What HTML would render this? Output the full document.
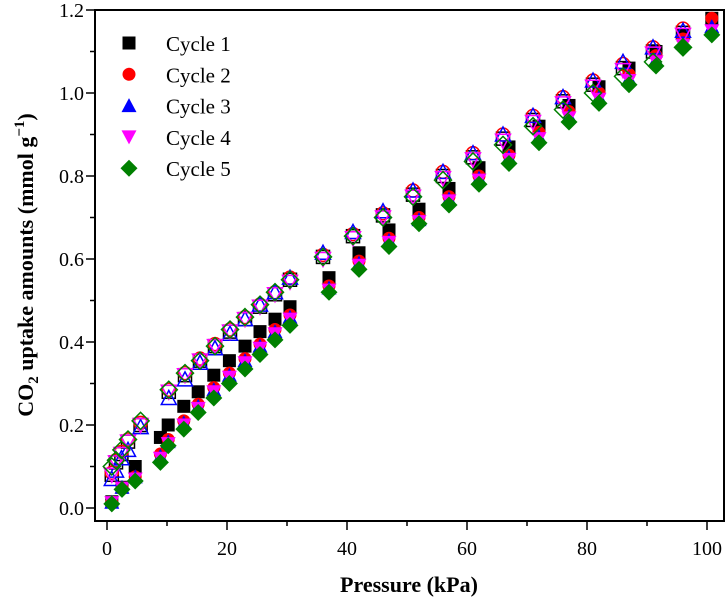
<!DOCTYPE html>
<html><head><meta charset="utf-8"><style>
body{margin:0;background:#fff;}
svg{display:block;font-family:"Liberation Serif",serif;}
</style></head><body>
<svg id="chart" width="727" height="600">
</svg>
<script>
const adsP = [0.8,2.5,4.7,8.9,10.2,12.8,15.2,17.8,20.4,23,25.5,28,30.5,37,42,47,52,57,62,67,72,77,82,87,91.5,96,100.8];
const desP = [96,91,86,81,76,71,66,61,56,51,46,41,36,30.5,28,25.5,23,20.5,18,15.5,13,10.3,5.6,3.5,2.4,1.5,0.8];
const ads1 = [0.015,0.05,0.10,0.17,0.20,0.245,0.28,0.32,0.355,0.39,0.425,0.455,0.485,0.555,0.615,0.67,0.72,0.77,0.82,0.87,0.92,0.97,1.015,1.06,1.10,1.14,1.18];
const ads2 = [0.014,0.048,0.075,0.13,0.165,0.21,0.25,0.29,0.325,0.36,0.395,0.43,0.465,0.535,0.595,0.65,0.70,0.75,0.80,0.85,0.905,0.955,1.0,1.045,1.09,1.13,1.18];
const ads3 = [0.014,0.05,0.075,0.125,0.16,0.205,0.245,0.285,0.32,0.355,0.39,0.425,0.46,0.53,0.59,0.645,0.695,0.745,0.795,0.845,0.895,0.945,0.99,1.035,1.08,1.12,1.16];
const ads4 = [0.013,0.048,0.07,0.12,0.155,0.2,0.24,0.28,0.315,0.35,0.385,0.42,0.455,0.525,0.585,0.64,0.69,0.74,0.79,0.84,0.89,0.94,0.985,1.03,1.075,1.115,1.15];
const ads5 = [0.01,0.045,0.065,0.11,0.15,0.19,0.23,0.265,0.30,0.335,0.37,0.405,0.44,0.52,0.575,0.63,0.685,0.73,0.78,0.83,0.88,0.93,0.975,1.02,1.065,1.11,1.14];
const des1 = [1.145,1.10,1.06,1.02,0.98,0.935,0.89,0.845,0.80,0.755,0.705,0.655,0.605,0.55,0.515,0.485,0.455,0.425,0.39,0.355,0.32,0.28,0.2,0.16,0.13,0.11,0.08];
const des2 = [1.155,1.11,1.07,1.03,0.99,0.945,0.90,0.855,0.81,0.765,0.71,0.66,0.61,0.555,0.52,0.49,0.46,0.43,0.395,0.36,0.325,0.285,0.205,0.165,0.135,0.115,0.085];
const des3 = [1.15,1.11,1.075,1.03,0.99,0.945,0.90,0.855,0.81,0.765,0.715,0.665,0.615,0.555,0.52,0.49,0.455,0.42,0.385,0.35,0.31,0.265,0.195,0.14,0.12,0.09,0.07];
const des4 = [1.14,1.095,1.055,1.015,0.975,0.93,0.885,0.84,0.795,0.75,0.70,0.65,0.60,0.545,0.515,0.485,0.455,0.425,0.39,0.355,0.32,0.28,0.2,0.16,0.13,0.11,0.08];
const des5 = [1.11,1.075,1.04,1.0,0.96,0.92,0.875,0.835,0.79,0.75,0.70,0.655,0.605,0.55,0.52,0.49,0.46,0.43,0.39,0.355,0.325,0.285,0.21,0.165,0.14,0.115,0.1];
const xTicks = [0,20,40,60,80,100];
const yTicks = [0.0,0.2,0.4,0.6,0.8,1.0,1.2];
const seriesNames = ["Cycle 1","Cycle 2","Cycle 3","Cycle 4","Cycle 5"];

const NS="http://www.w3.org/2000/svg";
const svg=document.getElementById('chart');
const L=95,R=724,T=10,B=521;
const X=v=>107+v*6.0;
const Y=v=>508-v*415;
function el(tag,attrs,parent){const e=document.createElementNS(NS,tag);for(const k in attrs)e.setAttribute(k,attrs[k]);(parent||svg).appendChild(e);return e;}

const colors=["#000","#ff0000","#0000ff","#ff00ff","#008000"];
const shapes=["square","circle","tri","tridown","diamond"];
function marker(shape,cx,cy,color,filled,parent){
  const s=6.5;let e;
  const st=filled?{fill:color,stroke:'none'}:{fill:'none',stroke:color,'stroke-width':1.5};
  if(shape==='square')e=el('rect',Object.assign({x:cx-s,y:cy-s,width:2*s,height:2*s},st),parent);
  else if(shape==='circle')e=el('circle',Object.assign({cx:cx,cy:cy,r:s},st),parent);
  else if(shape==='tri')e=el('polygon',Object.assign({points:`${cx},${cy-s-1} ${cx-s-1},${cy+s} ${cx+s+1},${cy+s}`},st),parent);
  else if(shape==='tridown')e=el('polygon',Object.assign({points:`${cx},${cy+s+1} ${cx-s-1},${cy-s} ${cx+s+1},${cy-s}`},st),parent);
  else e=el('polygon',Object.assign({points:`${cx},${cy-s-2} ${cx+s+2},${cy} ${cx},${cy+s+2} ${cx-s-2},${cy}`},st),parent);
  return e;
}

const frame=el('rect',{x:L,y:T,width:R-L,height:B-T,fill:'none',stroke:'#000','stroke-width':2});



for(let i=0;i<=12;i++){
  const v=i*0.1,y=Y(v),major=i%2===0;
  const t=el('line',{x1:L,x2:L-(major?9:5),y1:y,y2:y,stroke:'#000','stroke-width':1.5});
  
  
}
yTicks.forEach(v=>{
  const t=el('text',{x:84,y:Y(v)+7,'text-anchor':'end','font-size':20});
  t.textContent=v.toFixed(1);
  
  
});
for(let v=0;v<=100;v+=10){
  const major=v%20===0;
  const t=el('line',{x1:X(v),x2:X(v),y1:B,y2:B+(major?9:5),stroke:'#000','stroke-width':1.5});
  
  
}
xTicks.forEach(v=>{
  const t=el('text',{x:X(v),y:555,'text-anchor':'middle','font-size':20});
  t.textContent=v;
  
  
});
const xt=el('text',{x:409,y:592,'text-anchor':'middle','font-size':22,'font-weight':'bold'});
xt.textContent='Pressure (kPa)';


const yt=el('text',{transform:'translate(33,265) rotate(-90)','text-anchor':'middle','font-size':22,'font-weight':'bold'});
yt.innerHTML='CO<tspan font-size="15" dy="5">2</tspan><tspan dy="-5"> uptake amounts (mmol g</tspan><tspan font-size="15" dy="-9">−1</tspan><tspan dy="9">)</tspan>';



const ads=[ads1,ads2,ads3,ads4,ads5], des=[des1,des2,des3,des4,des5];
for(let s=0;s<5;s++){
  const g=el('g',{});
  
  
  adsP.forEach((p,i)=>{const m=marker(shapes[s],X(p),Y(ads[s][i]),colors[s],true,g);
    
    });
  desP.forEach((p,i)=>{const m=marker(shapes[s],X(p),Y(des[s][i]),colors[s],false,g);
    
    });
}
const lg=el('g',{});


seriesNames.forEach((n,i)=>{
  const y=43+i*31.3;
  const m=marker(shapes[i],129,y,colors[i],true,lg);
  
  
  const t=el('text',{x:166,y:y+8,'font-size':21},lg);
  t.textContent=n;
  
  
});
</script>
</body></html>
